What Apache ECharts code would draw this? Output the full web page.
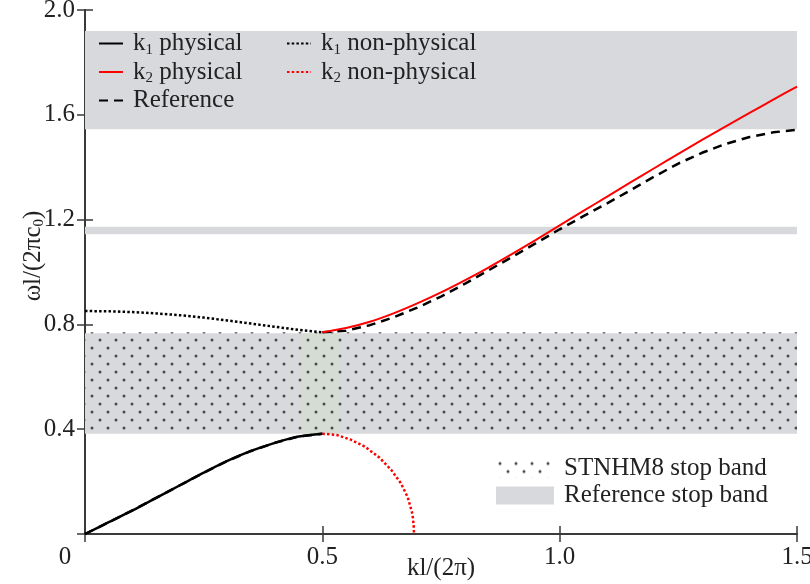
<!DOCTYPE html>
<html>
<head>
<meta charset="utf-8">
<script src="https://cdn.jsdelivr.net/npm/echarts@6/dist/echarts.min.js"></script>
<style>
  html, body { margin: 0; padding: 0; background: #fff; }
  #chart { width: 810px; height: 584px; }
</style>
</head>
<body>
<div id="chart"></div>
<script>
// Axis ticks: normalised wavenumber kl/(2π) and normalised frequency ωl/(2πc0)
const kTicks = [0, 0.5, 1.0, 1.5];
const omegaTicks = [0, 0.4, 0.8, 1.2, 1.6, 2.0];

// Lower branch (0 ≤ kl/2π ≤ 0.5)
const lowerK = [0, 0.05, 0.1, 0.15, 0.2, 0.25, 0.3, 0.35, 0.4, 0.45, 0.5];
const k1Physical = [0, 0.045, 0.090, 0.138, 0.186, 0.234, 0.279, 0.317, 0.348, 0.372, 0.383];
const k1NonPhysical = [0.851, 0.850, 0.847, 0.842, 0.835, 0.826, 0.815, 0.803, 0.791, 0.779, 0.770];
const referenceLower = [0, 0.045, 0.090, 0.138, 0.186, 0.234, 0.279, 0.317, 0.348, 0.372, 0.383];

// Upper branch (0.5 ≤ kl/2π ≤ 1.5)
const upperK = [0.5, 0.55, 0.6, 0.65, 0.7, 0.75, 0.8, 0.85, 0.9, 0.95, 1.0,
                1.05, 1.1, 1.15, 1.2, 1.25, 1.3, 1.35, 1.4, 1.45, 1.5];
const k2Physical = [0.770, 0.786, 0.810, 0.842, 0.880, 0.922, 0.968, 1.017, 1.069, 1.123, 1.178,
                    1.233, 1.288, 1.343, 1.397, 1.451, 1.504, 1.556, 1.607, 1.658, 1.708];
const referenceUpper = [0.770, 0.776, 0.797, 0.827, 0.864, 0.906, 0.955, 1.006, 1.058, 1.110, 1.163,
                        1.213, 1.262, 1.313, 1.365, 1.414, 1.455, 1.489, 1.515, 1.533, 1.543];

// Evanescent k2 branch closing down to the k axis
const k2NonPhysK = [0.5, 0.53, 0.56, 0.59, 0.62, 0.645, 0.665, 0.68, 0.69, 0.6925, 0.693];
const k2NonPhysical = [0.383, 0.378, 0.360, 0.333, 0.292, 0.245, 0.195, 0.140, 0.075, 0.030, 0];

// Stop bands as [lower, upper] frequency limits
const referenceStopBands = [[1.545, 1.920], [1.144, 1.173], [0.383, 0.766]];
const stnhm8StopBands = [[0.383, 0.770]];
// Highlighted window around the zone edge inside the first stop band: [k0, k1, ω0, ω1]
const edgeWindow = [[0.456, 0.535, 0.383, 0.766]];

const FONT = "'Liberation Serif', 'Times New Roman', Times, serif";
const FS = 25;
const TEXT = '#222';
const FRAME = '#3a3a3a';

const pair = (xs, ys) => xs.map((x, i) => [x, ys[i]]);

// Dot pattern used for the STNHM8 band
function dotPattern() {
  const c = document.createElement('canvas');
  c.width = 16; c.height = 16;
  const g = c.getContext('2d');
  g.fillStyle = '#4a4a4a';
  [[4, 4], [12, 12]].forEach(([x, y]) => {
    g.beginPath(); g.arc(x, y, 1.5, 0, Math.PI * 2); g.fill();
  });
  return c;
}
const dots = { image: dotPattern(), repeat: 'repeat' };

const kMin = kTicks[0], kMax = kTicks[kTicks.length - 1];
const bandItem = (fill) => (params, api) => {
  const lo = api.value(0), hi = api.value(1);
  const a = api.coord([kMin, hi]);
  const b = api.coord([kMax, lo]);
  return { type: 'rect', shape: { x: a[0], y: a[1], width: b[0] - a[0], height: b[1] - a[1] },
           style: { fill: fill } };
};

const legendNames = {
  'k1 physical': '{t|k}{s|1}{t| physical}',
  'k2 physical': '{t|k}{s|2}{t| physical}',
  'Reference': '{t|Reference}',
  'k1 non-physical': '{t|k}{s|1}{t| non-physical}',
  'k2 non-physical': '{t|k}{s|2}{t| non-physical}',
  'STNHM8 stop band': '{t|STNHM8 stop band}',
  'Reference stop band': '{t|Reference stop band}'
};
const subRich = {
  t: { fontFamily: FONT, fontSize: FS, color: TEXT, lineHeight: 28 },
  s: { fontFamily: FONT, fontSize: 15, color: TEXT, lineHeight: 13, verticalAlign: 'bottom' }
};
const legendBase = (extra) => Object.assign({
  orient: 'vertical', padding: 0, itemGap: 2, selectedMode: false,
  formatter: (n) => legendNames[n],
  textStyle: { fontFamily: FONT, fontSize: FS, color: TEXT, padding: [0, 0, 0, 5], rich: subRich }
}, extra);

const tickAxisCommon = {
  type: 'value',
  nameMoveOverlap: false,
  axisLine: { show: true, lineStyle: { color: FRAME, width: 2 } },
  axisTick: { show: true, inside: true, length: 8, lineStyle: { color: FRAME, width: 1.5 } },
  splitLine: { show: false }
};

const option = {
  animation: false,
  backgroundColor: '#fff',
  textStyle: { fontFamily: FONT },
  grid: { left: 85, right: 13, top: 10, bottom: 50, containLabel: false, outerBoundsMode: 'none' },
  legend: [
    legendBase({ left: 98, top: 31, itemWidth: 24, itemHeight: 14, itemStyle: { opacity: 0 },
                 data: ['k1 physical', 'k2 physical', 'Reference'] }),
    legendBase({ left: 286, top: 31, itemWidth: 24, itemHeight: 14, itemStyle: { opacity: 0 },
                 data: ['k1 non-physical', 'k2 non-physical'] }),
    legendBase({ left: 496, top: 456, itemWidth: 58, itemHeight: 18, icon: 'rect',
                 data: ['STNHM8 stop band', 'Reference stop band'] })
  ],
  xAxis: [
    Object.assign({}, tickAxisCommon, {
      position: 'bottom', min: kMin, max: kMax, interval: kTicks[1] - kTicks[0],
      name: 'kl/(2π)', nameLocation: 'middle', nameGap: 22,
      nameTextStyle: { fontFamily: FONT, fontSize: FS, color: TEXT },
      axisLabel: {
        fontFamily: FONT, fontSize: FS, color: TEXT, margin: 11,
        formatter: (v) => v === 0 ? '{z|0}' : v.toFixed(1),
        rich: { z: { fontFamily: FONT, fontSize: FS, color: TEXT, padding: [0, 40, 0, 0] } }
      }
    }),
    Object.assign({}, tickAxisCommon, {
      position: 'top', min: kMin, max: kMax, interval: kTicks[1] - kTicks[0],
      axisLabel: { show: false }
    })
  ],
  yAxis: [
    Object.assign({}, tickAxisCommon, {
      position: 'left', min: omegaTicks[0], max: omegaTicks[omegaTicks.length - 1],
      interval: omegaTicks[1] - omegaTicks[0],
      name: '{t|ωl/(2πc}{s|0}{t|)}', nameLocation: 'middle', nameGap: 38,
      nameTextStyle: {
        fontFamily: FONT, fontSize: FS, color: TEXT, padding: [0, 0, 0, 32],
        rich: subRich
      },
      axisLabel: {
        fontFamily: FONT, fontSize: FS, color: TEXT, margin: 10,
        formatter: (v) => v === 0 ? '' : v.toFixed(1)
      }
    }),
    Object.assign({}, tickAxisCommon, {
      position: 'right', min: omegaTicks[0], max: omegaTicks[omegaTicks.length - 1],
      interval: omegaTicks[1] - omegaTicks[0],
      axisLabel: { show: false }
    })
  ],
  series: [
    {
      name: 'Reference stop band', type: 'custom', z: 1, clip: true,
      itemStyle: { color: '#d8d9dc' },
      renderItem: bandItem('#d8d9dc'),
      data: referenceStopBands
    },
    {
      name: 'edge window', type: 'custom', z: 1, clip: true, silent: true,
      renderItem: (params, api) => {
        const a = api.coord([api.value(0), api.value(3)]);
        const b = api.coord([api.value(1), api.value(2)]);
        return { type: 'rect', shape: { x: a[0], y: a[1], width: b[0] - a[0], height: b[1] - a[1] },
                 style: { fill: 'rgba(205,228,190,0.3)' } };
      },
      data: edgeWindow
    },
    {
      name: 'STNHM8 stop band', type: 'custom', z: 2, clip: true,
      itemStyle: { color: dots },
      renderItem: bandItem(dots),
      data: stnhm8StopBands
    },
    {
      name: 'Reference', type: 'line', z: 3, symbol: 'none',
      itemStyle: { color: '#000' },
      lineStyle: { color: '#000', width: 2.5, type: [9, 6] },
      data: pair(upperK, referenceUpper)
    },
    {
      name: 'Reference', type: 'line', z: 3, symbol: 'none',
      itemStyle: { color: '#000' },
      lineStyle: { color: '#000', width: 2.5, type: [9, 6] },
      data: pair(lowerK, referenceLower)
    },
    {
      name: 'k1 non-physical', type: 'line', z: 4, symbol: 'none',
      itemStyle: { color: '#000' },
      lineStyle: { color: '#000', width: 2.5, type: [2.5, 2.2] },
      data: pair(lowerK, k1NonPhysical)
    },
    {
      name: 'k2 non-physical', type: 'line', z: 4, symbol: 'none',
      itemStyle: { color: '#ff0000' },
      lineStyle: { color: '#ff0000', width: 2.5, type: [2.5, 2.2] },
      data: pair(k2NonPhysK, k2NonPhysical)
    },
    {
      name: 'k2 physical', type: 'line', z: 5, symbol: 'none', smooth: 0.3,
      itemStyle: { color: '#ff0000' },
      lineStyle: { color: '#ff0000', width: 2 },
      data: pair(upperK, k2Physical)
    },
    {
      name: 'k1 physical', type: 'line', z: 5, symbol: 'none', smooth: 0.3,
      itemStyle: { color: '#000' },
      lineStyle: { color: '#000', width: 2.5 },
      data: pair(lowerK, k1Physical)
    }
  ]
};

const chart = echarts.init(document.getElementById('chart'), null, { renderer: 'canvas' });
chart.setOption(option);
</script>
</body>
</html>
